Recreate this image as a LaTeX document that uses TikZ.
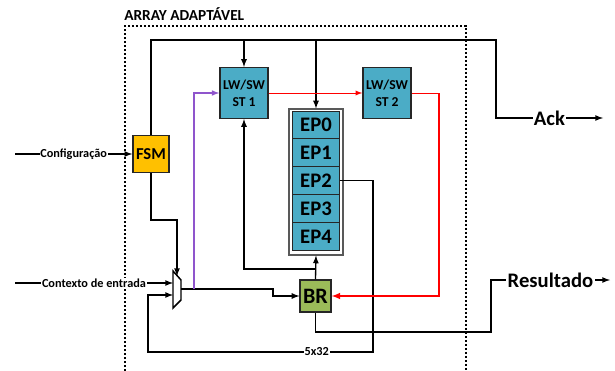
\documentclass[tikz,border=0pt]{standalone}
\usepackage{fontspec}
\setmainfont{Carlito}
\usepackage{tikz}
\usetikzlibrary{positioning}

\begin{document}
\begin{tikzpicture}[
x=0.75pt, y=-0.75pt, >=latex,
wire/.style={black, line width=1pt},
stbox/.style={rectangle, draw=black!85, fill=blockblue, line width=1.1pt, minimum width=36pt, minimum height=38pt, inner sep=0pt, align=center, font=\bfseries\fontsize{10.2}{12.5}\selectfont},
epbox/.style={rectangle, draw=black!85, fill=blockblue, line width=0.6pt, outer sep=0pt, minimum width=35.5pt, minimum height=20.9pt, inner sep=0pt, font=\bfseries\fontsize{15.5}{16}\selectfont},
tag/.style={fill=white, inner sep=0.5pt, font=\bfseries\fontsize{9.2}{11}\selectfont},
bigtag/.style={fill=white, inner sep=1pt, font=\bfseries\fontsize{15.5}{16}\selectfont}
]
\definecolor{blockblue}{HTML}{4BACC6}
\definecolor{fsmyellow}{HTML}{FFC000}
\definecolor{brgreen}{HTML}{9BBB59}
\definecolor{wirepurple}{HTML}{8F55CC}
\useasboundingbox (0,0) rectangle (615,371);
%Frame
\draw[black, line width=1.1pt, dash pattern=on 1.8pt off 1.2pt] (125,371) -- (125,26) -- (466,26) -- (466,371);
\node[anchor=west, inner sep=0pt, font=\bfseries\fontsize{11.5}{13}\selectfont] (title) at (124,14) {ARRAY ADAPTÁVEL};
%Nodes
\node[stbox]      (st1)   at (244,93)     {LW/SW\\ST 1};
\node[stbox]      (st2)   at (387,93)     {LW/SW\\ST 2};
\node[rectangle, draw=black!65, fill=white, line width=0.8pt, minimum width=40.5pt, minimum height=109.5pt, inner sep=0pt] (eps) at (316,182) {};
\node[epbox]      (ep0)   at (316,124.9)  {EP0};
\node[epbox]      (ep1)   [below=0pt of ep0]  {EP1};
\node[epbox]      (ep2)   [below=0pt of ep1]  {EP2};
\node[epbox]      (ep3)   [below=0pt of ep2]  {EP3};
\node[epbox]      (ep4)   [below=0pt of ep3]  {EP4};
\node[rectangle, draw=black!85, fill=fsmyellow, line width=1.1pt, minimum width=27pt, minimum height=27.5pt, inner sep=0pt, font=\bfseries\fontsize{12.5}{14}\selectfont] (fsm) at (151,154) {FSM};
\node[rectangle, draw=black!85, fill=brgreen, line width=1.1pt, minimum width=23pt, minimum height=24pt, inner sep=0pt, font=\bfseries\fontsize{16.5}{17}\selectfont] (br) at (315.5,296) {BR};
%Mux
\draw[black, line width=1.1pt] (173,271) -- (181,280) -- (181,300) -- (173,308) -- cycle;
\coordinate (muxa) at (173,283);
\coordinate (muxb) at (173,295);
\coordinate (muxs) at (177,276);
\coordinate (muxo) at (181,289);
\coordinate (cfgin) at (15,154);
\coordinate (ctxin) at (15,283);
\coordinate (ackout) at (603,118);
\coordinate (resout) at (610,280);
%Lines
\draw[wire, ->] (cfgin) -- (fsm.west) node [midway, tag] {Configuração};
\draw[wire, ->] (ctxin) -- (muxa) node [midway, tag] {Contexto de entrada};
\draw[wire, ->] (fsm.north) |- (496,40) -- (496,118) -- (ackout) node [midway, bigtag] {Ack};
\draw[wire, ->] (st1.north |- 0,40) -- (st1.north);
\draw[wire, ->] (eps.north |- 0,40) -- (eps.north);
\draw[wire, ->] (fsm.south) |- (177,220) -- (muxs);
\draw[wire, ->] (ep2.east) -| (373,352) -- (148,352) node [pos=0.25, tag] {5x32} |- (muxb);
\draw[wire, ->] (muxo) -- (273,289) |- (br.west);
\draw[wirepurple, line width=0.9pt, ->] (194,289) |- (st1.west);
\draw[wire, ->] (br.north) -- (eps.south);
\draw[wire, ->] (br.north |- 0,269) -| (st1.south);
\draw[red, line width=0.75pt, ->] (st1.east) -- (st2.west);
\draw[red, line width=0.75pt] (st2.east) -- (439,93);
\draw[red, line width=1.2pt, ->] (439,93) |- (br.east);
\draw[wire, ->] (br.south) |- (491,332) -- (491,280) -- (resout) node [midway, bigtag] {Resultado};
\end{tikzpicture}
\end{document}
